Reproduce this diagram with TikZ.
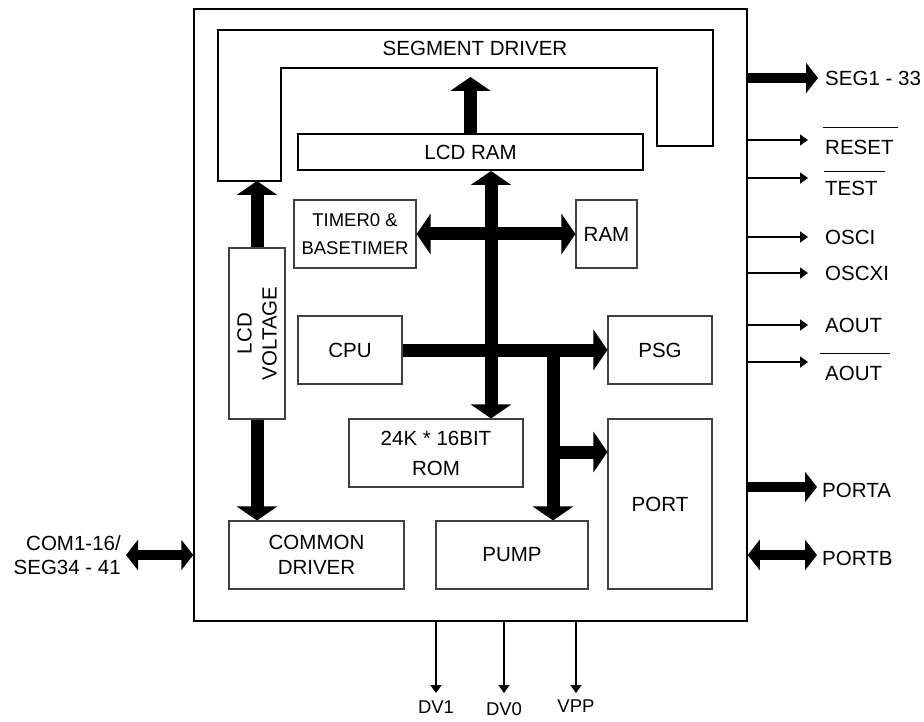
\documentclass[tikz,border=0pt]{standalone}
\usepackage{fontspec}
\setmainfont{Liberation Sans}
\usetikzlibrary{arrows.meta}
\begin{document}
\begin{tikzpicture}[x=1pt,y=-1pt,
  every node/.style={inner sep=0pt, font=\fontsize{20.5}{25}\selectfont},
  box/.style={draw=black!75, line width=1.1pt, align=center},
  bbox/.style={draw=black, line width=2pt, align=center},
  bus/.style={line width=13pt, -{Triangle[width=40pt,length=14pt]}},
  dbus/.style={line width=13pt, {Triangle[width=40pt,length=14pt]}-{Triangle[width=40pt,length=14pt]}},
  ext/.style={line width=10.5pt, -{Triangle[width=30pt,length=12pt]}},
  dext/.style={line width=10pt, {Triangle[width=30pt,length=12pt]}-{Triangle[width=30pt,length=12pt]}},
  sig/.style={line width=1.5pt, -{Triangle[width=11pt,length=8pt]}},
  lbl/.style={anchor=base west},
  ovl/.style={line width=1.3pt}
]
\useasboundingbox[fill=white] (0,0) rectangle (924,722);

% chip outline
\node[draw=black, line width=1.5pt, minimum width=553pt, minimum height=612pt] (chip) at (470.5,315) {};

% segment driver
\draw[line width=2pt] (218,30) -- (713,30) -- (713,146) -- (657,146) -- (657,68)
  -- (281,68) -- (281,181) -- (218,181) -- cycle;
\node (segtxt) at (475,48) {SEGMENT DRIVER};
\coordinate (segtop) at (470.5,77);
\coordinate (segbot) at (0,181);

% blocks
\node[bbox, minimum width=345pt, minimum height=36pt] (lcdram) at (470.5,152) {LCD RAM};
\node[box, minimum width=122pt, minimum height=68pt, font=\fontsize{18.5}{28}\selectfont] (timer) at (355,234) {TIMER0 \&\\BASETIMER};
\node[box, minimum width=61pt, minimum height=68pt] (ram) at (606.5,234) {RAM};
\node[box, minimum width=56pt, minimum height=171pt] (lcdv) at (257,333.5) {};
\node[rotate=90, align=center, font=\fontsize{20.5}{25}\selectfont] (lcdvtxt) at (lcdv.center) {LCD\\VOLTAGE};
\node[box, minimum width=104pt, minimum height=68pt] (cpu) at (350,350) {CPU};
\node[box, minimum width=104pt, minimum height=68pt] (psg) at (660,350) {PSG};
\node[box, minimum width=174pt, minimum height=68pt, font=\fontsize{20.5}{30}\selectfont] (rom) at (436,453) {24K * 16BIT\\ROM};
\node[box, minimum width=104pt, minimum height=170pt] (port) at (660,504) {PORT};
\node[box, minimum width=175pt, minimum height=68pt, font=\fontsize{20.5}{25}\selectfont] (common) at (316.5,555) {COMMON\\DRIVER};
\node[box, minimum width=152pt, minimum height=68pt] (pump) at (512,555) {PUMP};

% internal buses
\draw[bus] (lcdram.north) -- (segtop);
\coordinate (busx) at (491,0);
\draw[dbus] (lcdram.south -| busx) -- (rom.north -| busx);
\draw[dbus] (timer.east) -- (ram.west);
\draw[bus] (lcdv.north) -- (lcdv.north |- segbot);
\draw[bus] (lcdv.south) -- (common.north -| lcdv.south);
\draw[bus] (cpu.east) -- (psg.west);
\coordinate (j1) at (553,350);
\draw[bus] (j1) -- (pump.north -| j1);
\coordinate (j2) at (553,452);
\draw[bus] (j2) -- (port.west |- j2);

% right side pins
\coordinate (tSEG) at (818,78);
\draw[ext] (chip.east |- tSEG) -- (tSEG);
\node[lbl] (seg) at (825,85.5) {SEG1 - 33};

\coordinate (tRST) at (808,140);
\draw[sig] (chip.east |- tRST) -- (tRST);
\node[lbl] (rst) at (825,154.5) {RESET};
\draw[ovl] ([xshift=-2pt,yshift=27pt]rst.base west) -- ([xshift=4pt,yshift=27pt]rst.base east);

\coordinate (tTST) at (808,178);
\draw[sig] (chip.east |- tTST) -- (tTST);
\node[lbl] (tst) at (825,195.5) {TEST};
\draw[ovl] ([xshift=-1pt,yshift=24pt]tst.base west) -- ([xshift=7pt,yshift=24pt]tst.base east);

\coordinate (tOSC) at (808,237);
\draw[sig] (chip.east |- tOSC) -- (tOSC);
\node[lbl] (osci) at (825,244.3) {OSCI};

\coordinate (tOSX) at (808,273);
\draw[sig] (chip.east |- tOSX) -- (tOSX);
\node[lbl] (oscxi) at (825,280.3) {OSCXI};

\coordinate (tAO) at (808,325);
\draw[sig] (chip.east |- tAO) -- (tAO);
\node[lbl] (aout) at (825,332.3) {AOUT};

\coordinate (tAOB) at (808,362);
\draw[sig] (chip.east |- tAOB) -- (tAOB);
\node[lbl] (aoutb) at (825,380.5) {AOUT};
\draw[ovl] ([xshift=-5pt,yshift=27pt]aoutb.base west) -- ([xshift=8pt,yshift=27pt]aoutb.base east);

\coordinate (tPA) at (817,487);
\draw[ext] (chip.east |- tPA) -- (tPA);
\node[lbl] (porta) at (822,497) {PORTA};

\coordinate (tPB) at (817,555);
\draw[dext] (chip.east |- tPB) -- (tPB);
\node[lbl] (portb) at (822,565) {PORTB};

% left side
\coordinate (tCOM) at (126,555);
\draw[dext] (tCOM) -- (chip.west |- tCOM);
\node[anchor=east, align=right, font=\fontsize{20.5}{24}\selectfont] (com) at (121,555) {COM1-16/\\SEG34 - 41};

% bottom pins
\coordinate (tDV1) at (436,693);
\coordinate (tDV0) at (504,693);
\coordinate (tVPP) at (576,693);
\draw[sig] (chip.south -| tDV1) -- (tDV1);
\draw[sig] (chip.south -| tDV0) -- (tDV0);
\draw[sig] (chip.south -| tVPP) -- (tVPP);
\node[font=\fontsize{18.5}{22}\selectfont] (dv1) at (436,707) {DV1};
\node[font=\fontsize{18.5}{22}\selectfont] (dv0) at (504,709) {DV0};
\node[font=\fontsize{18.5}{22}\selectfont] (vpp) at (576,706) {VPP};
\end{tikzpicture}
\end{document}
